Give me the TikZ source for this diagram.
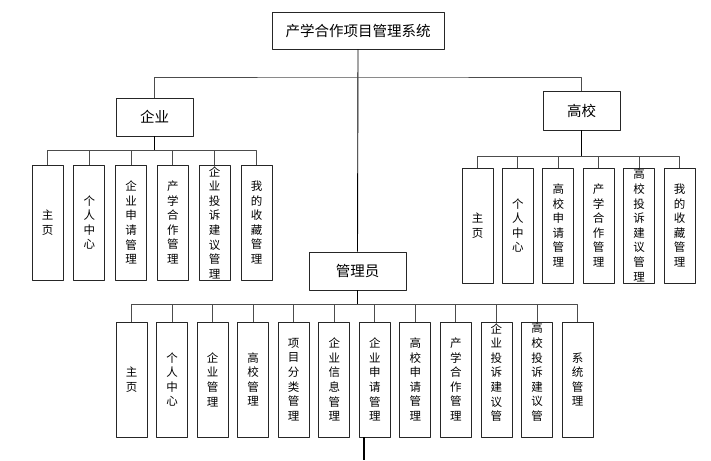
\documentclass[tikz,border=0pt]{standalone}
\usepackage{fontspec}
\newfontfamily\cjk{Noto Sans CJK SC}
\begin{document}
\begin{tikzpicture}[x=1pt,y=-1pt,line join=round]
  \tikzset{
    box/.style={draw=black!85,line width=0.9pt,fill=white,inner sep=0pt,
      font=\cjk\fontsize{14.5}{16}\selectfont},
    leaf/.style={draw=black!85,line width=0.9pt,inner sep=0pt,
      minimum width=31pt,minimum height=115pt,align=center,
      font=\cjk\fontsize{11.5}{14.6}\selectfont},
    conn/.style={draw=black!70,line width=0.9pt},
    trunk/.style={draw=black,line width=1.6pt}
  }
  \useasboundingbox (0,0) rectangle (711,460);
  % top and second level
  \node[box,minimum width=172pt,minimum height=37pt] (sys) at (358,30.5) {产学合作项目管理系统};
  \node[box,minimum width=77pt,minimum height=38pt] (ent) at (154.5,117) {企业};
  \node[box,minimum width=77pt,minimum height=39pt] (uni) at (581.5,110.5) {高校};
  \node[box,minimum width=97pt,minimum height=38pt] (adm) at (357.5,271) {管理员};
  % bars
  \coordinate (topbar) at (358,77);
  \coordinate (entbar) at (154.5,150.5);
  \coordinate (unibar) at (581.5,156);
  \coordinate (admbar) at (357.5,304);
  \coordinate (tail) at (364,460);
  % enterprise
  \foreach \t [count=\i from 0] in {{主\\页},{个\\人\\中\\心},{企\\业\\申\\请\\管\\理},
      {产\\学\\合\\作\\管\\理},{企\\业\\投\\诉\\建\\议\\管\\理},{我\\的\\收\\藏\\管\\理}}
    \node[leaf] (e\i) at ({47.5+41.8*\i},222.5) {\t};
  % university
  \foreach \t [count=\i from 0] in {{主\\页},{个\\人\\中\\心},{高\\校\\申\\请\\管\\理},
      {产\\学\\合\\作\\管\\理},{高\\校\\投\\诉\\建\\议\\管\\理},{我\\的\\收\\藏\\管\\理}}
    \node[leaf] (u\i) at ({477.5+40.4*\i},225.5) {\t};
  % admin
  \foreach \t [count=\i from 0] in {{主\\页},{个\\人\\中\\心},{企\\业\\管\\理},{高\\校\\管\\理},
      {项\\目\\分\\类\\管\\理},{企\\业\\信\\息\\管\\理},{企\\业\\申\\请\\管\\理},
      {高\\校\\申\\请\\管\\理},{产\\学\\合\\作\\管\\理},
      {企\\业\\投\\诉\\建\\议\\管\\\phantom{理}},{高\\校\\投\\诉\\建\\议\\管\\\phantom{理}},
      {系\\统\\管\\理}}
    \node[leaf] (a\i) at ({131.5+40.55*\i},379.5) {\t};
  % connectors
  \draw[conn,draw=black] (sys.south) -- (adm.north);
  \draw[conn] (ent.north) |- (topbar) -| (uni.north);
  \draw[trunk] (ent.south) -- (entbar);
  \draw[trunk] (uni.south) -- (unibar);
  \draw[trunk] (adm.south) -- (admbar);
  \foreach \i in {0,...,5} {
    \draw[conn] (entbar) -| (e\i.north);
    \draw[conn] (unibar) -| (u\i.north);
  }
  \foreach \i in {0,...,11}
    \draw[conn] (admbar) -| (a\i.north);
  \draw[trunk] (a6.south -| tail) -- (tail);
\end{tikzpicture}
\end{document}
